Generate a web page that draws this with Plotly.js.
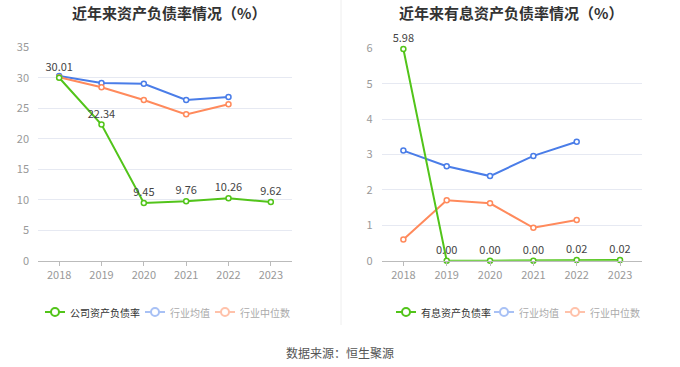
<!DOCTYPE html>
<html><head><meta charset="utf-8">
<script src="https://cdn.plot.ly/plotly-3.0.1.min.js"></script>
<style>html,body{margin:0;padding:0;background:#fff}#c{width:680px;height:367px}</style>
</head><body><div id="c"></div>
<script>
const years = ['2018','2019','2020','2021','2022','2023'];
const companyDebt = [30.01, 22.34, 9.45, 9.76, 10.26, 9.62];
const industryMean1 = [30.3, 29.15, 29.03, 26.36, 26.85, null];
const industryMedian1 = [30.08, 28.44, 26.36, 24.0, 25.65, null];
const companyIntDebt = [5.98, 0.00, 0.00, 0.00, 0.02, 0.02];
const industryMean2 = [3.11, 2.67, 2.39, 2.96, 3.36, null];
const industryMedian2 = [0.60, 1.71, 1.62, 0.93, 1.15, null];
const leftTitle = '近年来资产负债率情况（%）';
const rightTitle = '近年来有息资产负债率情况（%）';
const legend1 = ['公司资产负债率','行业均值','行业中位数'];
const legend2 = ['有息资产负债率','行业均值','行业中位数'];
const source = '数据来源：恒生聚源';

const GREEN='#52c41a', BLUE='#4a7de8', ORANGE='#ff8a5c';
const FONT='"Noto Sans CJK SC", "Microsoft YaHei", sans-serif';
const W=680,H=367;
function px(x){return x/W;} function py(y){return 1-y/H;}

function line(x,y,xa,ya,color,withText){
  return {x:x,y:y,xaxis:xa,yaxis:ya,type:'scatter',mode:withText?'lines+markers+text':'lines+markers',
    line:{color:color,width:2},marker:{size:5,color:'#fff',line:{color:color,width:1.5}},
    text:withText?y.map(v=>v.toFixed(2)):undefined,textposition:'top center',
    textfont:{size:11,color:'#444',family:FONT},cliponaxis:false,showlegend:false,hoverinfo:'skip',connectgaps:false};
}
const data=[
  line(years,industryMean1,'x','y',BLUE,false),
  line(years,industryMedian1,'x','y',ORANGE,false),
  line(years,companyDebt,'x','y',GREEN,true),
  line(years,industryMean2,'x2','y2',BLUE,false),
  line(years,industryMedian2,'x2','y2',ORANGE,false),
  line(years,companyIntDebt,'x2','y2',GREEN,true)
];
const axX={type:'category',showgrid:false,showline:true,linecolor:'#bbb',linewidth:1.5,ticks:'outside',ticklen:4,tickcolor:'#bbb',
  tickfont:{size:11,color:'#999',family:FONT},range:[-0.5,5.5],fixedrange:true,zeroline:false};
const axY={showgrid:true,gridcolor:'#e6e9f2',gridwidth:1,zeroline:false,showline:false,ticks:'',
  tickfont:{size:11,color:'#999',family:FONT},ticklabelstandoff:8};
const shapes=[{type:'line',xref:'paper',yref:'paper',x0:px(341),x1:px(341),y0:py(0),y1:py(325),line:{color:'#eeeeee',width:1}}];
const annotations=[
  {text:'<b>'+leftTitle+'</b>',xref:'paper',yref:'paper',x:px(169),y:py(12),xanchor:'center',yanchor:'middle',showarrow:false,font:{size:15,color:'#333',family:FONT}},
  {text:'<b>'+rightTitle+'</b>',xref:'paper',yref:'paper',x:px(511),y:py(12),xanchor:'center',yanchor:'middle',showarrow:false,font:{size:15,color:'#333',family:FONT}},
  {text:source,xref:'paper',yref:'paper',x:px(340),y:py(352),xanchor:'center',yanchor:'middle',showarrow:false,font:{size:12,color:'#555',family:FONT}}
];
function legItem(x0,label,color,active){
  const c=active?color:(color===BLUE?'#a8c1f5':'#ffc2aa');
  shapes.push({type:'line',xref:'paper',yref:'paper',x0:px(x0),x1:px(x0+20),y0:py(312),y1:py(312),line:{color:c,width:2}});
  shapes.push({type:'circle',xref:'paper',yref:'paper',x0:px(x0+6),x1:px(x0+14),y0:py(316),y1:py(308),fillcolor:'#fff',line:{color:c,width:2}});
  annotations.push({text:label,xref:'paper',yref:'paper',x:px(x0+23),y:py(312),xanchor:'left',yanchor:'middle',showarrow:false,
    font:{size:10,color:active?'#333':'#aaa',family:FONT}});
}
legItem(45,legend1[0],GREEN,true);legItem(145,legend1[1],BLUE,false);legItem(215,legend1[2],ORANGE,false);
legItem(396,legend2[0],GREEN,true);legItem(494,legend2[1],BLUE,false);legItem(565,legend2[2],ORANGE,false);

const layout={width:W,height:H,margin:{l:0,r:0,t:0,b:0},paper_bgcolor:'#fff',plot_bgcolor:'#fff',showlegend:false,
  xaxis:Object.assign({},axX,{domain:[px(38),px(292)],anchor:'y'}),
  yaxis:Object.assign({},axY,{domain:[py(260.7),py(47.3)],range:[0,35],dtick:5,anchor:'x'}),
  xaxis2:Object.assign({},axX,{domain:[px(381.7),px(641.7)],anchor:'y2'}),
  yaxis2:Object.assign({},axY,{domain:[py(260.7),py(48.3)],range:[0,6],dtick:1,anchor:'x2'}),
  shapes:shapes,annotations:annotations,font:{family:FONT}};
Plotly.newPlot('c',data,layout,{displayModeBar:false,staticPlot:true});
</script></body></html>
